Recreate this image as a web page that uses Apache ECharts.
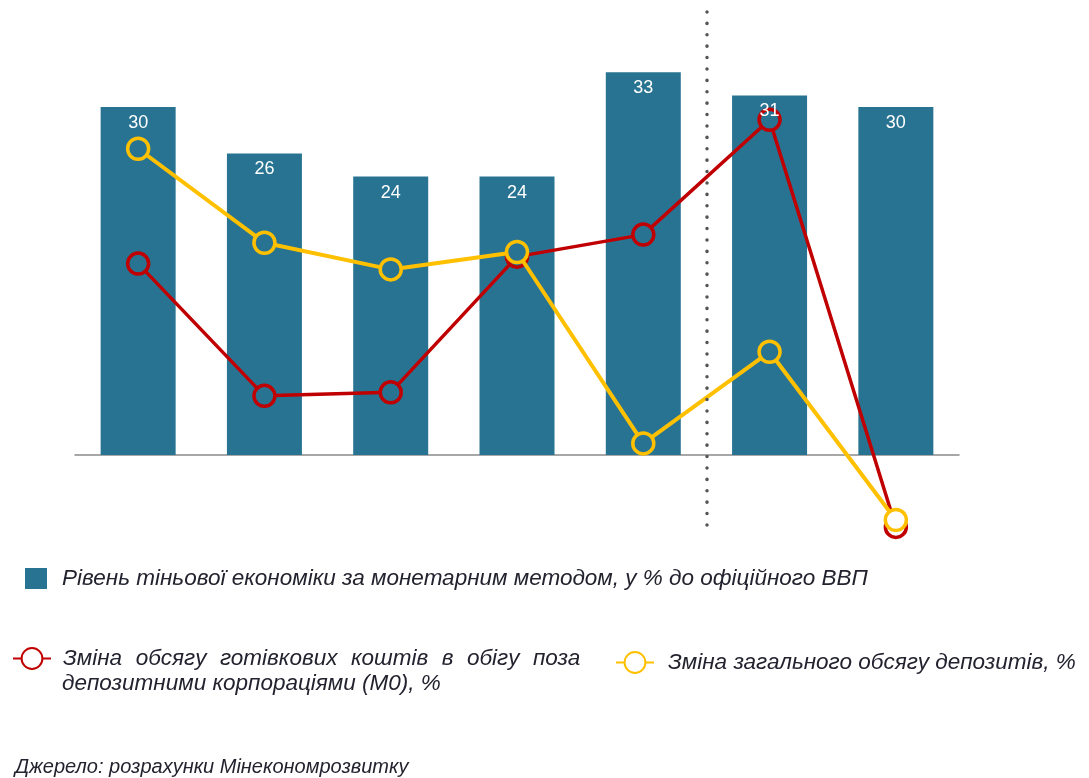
<!DOCTYPE html>
<html><head><meta charset="utf-8">
<script src="https://cdn.jsdelivr.net/npm/echarts@6/dist/echarts.min.js"></script>
<style>html,body{margin:0;padding:0;background:#fff}#c{width:1089px;height:778px}</style>
</head><body><div id="c"></div>
<script>
const categories = ['2010','2011','2012','2013','2014','I півр. 2015','2015'];
const shadowLevel = [30, 26, 24, 24, 33, 31, 30];
const m0Change = [16.5, 5.1, 5.4, 17.1, 19.0, 28.9, -6.2];
const depositChange = [26.4, 18.3, 16.0, 17.5, 1.0, 8.9, -5.6];
const separatorAt = 5;
const nameBar = 'Рівень тіньової економіки за монетарним методом, у % до офіційного ВВП';
const nameM0 = 'Зміна обсягу готівкових коштів в обігу поза\nдепозитними корпораціями (М0), %';
const nameDep = 'Зміна загального обсягу депозитів, %';
const source = 'Джерело: розрахунки Мінекономрозвитку';

const barColor = '#287392';
const fillFor = (v, i) => ({value: v, itemStyle: {color: (v > 0 && v < shadowLevel[i]) ? barColor : '#ffffff'}});

const chart = echarts.init(document.getElementById('c'));
const font = {fontFamily:'Liberation Sans', fontStyle:'italic', fontSize:22.5, color:'#23232f', lineHeight:26};
function legendRich(pad, extraSpace) {
  return {t: Object.assign({}, font), p: {width: pad}, sp: Object.assign({}, font, {width: extraSpace})};
}
chart.setOption({
  animation:false,
  grid:{left:75, width:884, top:2.6, height:545.2},
  xAxis:[
    {type:'category', data:categories, axisLine:{lineStyle:{color:'#8a8a8a', width:1.5}}, axisTick:{show:false}, axisLabel:{show:false}},
    {type:'value', min:0, max:7, show:false}
  ],
  yAxis:{type:'value', min:-8, max:39, show:false, splitLine:{show:false}},
  title:[
    {text:source, left:10, top:750, padding:5, textStyle:Object.assign({}, font, {fontSize:20, lineHeight:24, fontWeight:'normal'})},
    {text:nameM0.split('\n')[1], left:57, top:666, padding:5, textStyle:Object.assign({}, font, {fontWeight:'normal'})}
  ],
  legend:[
    {data:[nameBar], left:20, top:562, itemWidth:22, itemHeight:21, icon:'rect',
     formatter: n => '{p|}{t|' + n + '}', textStyle:{rich: legendRich(10, 0)}},
    {data:[nameM0], left:7, top:642, itemWidth:38, itemHeight:26,
     formatter: n => '{p|}' + n.split('\n')[0].split(' ').map(w => '{t|' + w + '}').join('{sp| }'),
     textStyle:{rich: legendRich(7, 13.5)}},
    {data:[nameDep], left:610, top:646, itemWidth:38, itemHeight:26,
     formatter: n => '{p|}{t|' + n + '}', textStyle:{rich: legendRich(9, 0)}}
  ],
  series:[
    {name:nameBar, type:'bar', data:shadowLevel, barWidth:75,
     itemStyle:{color:barColor}, z:1},
    {name:nameM0, type:'line', data:m0Change.map(fillFor), symbol:'circle', symbolSize:21,
     lineStyle:{color:'#C00000', width:3.5},
     itemStyle:{color:'#ffffff', borderColor:'#C00000', borderWidth:3.5}, z:3},
    {name:nameDep, type:'line', data:depositChange.map(fillFor), symbol:'circle', symbolSize:21,
     lineStyle:{color:'#FFC000', width:4},
     itemStyle:{color:'#ffffff', borderColor:'#FFC000', borderWidth:3.5}, z:4},
    {type:'bar', data:shadowLevel, barWidth:75, barGap:'-100%', silent:true,
     itemStyle:{color:'rgba(0,0,0,0)'}, z:6,
     label:{show:true, position:'insideTop', distance:7, color:'#ffffff', fontSize:18, fontFamily:'Liberation Sans'}},
    {type:'line', xAxisIndex:1, data:[], silent:true,
     markLine:{symbol:'none', silent:true, label:{show:false},
       lineStyle:{color:'#555', width:3.5, type:[0.1, 11.3], cap:'round'},
       data:[[{coord:[separatorAt, 38.2]},{coord:[separatorAt, -6.9]}]]}}
  ]
});
</script></body></html>
